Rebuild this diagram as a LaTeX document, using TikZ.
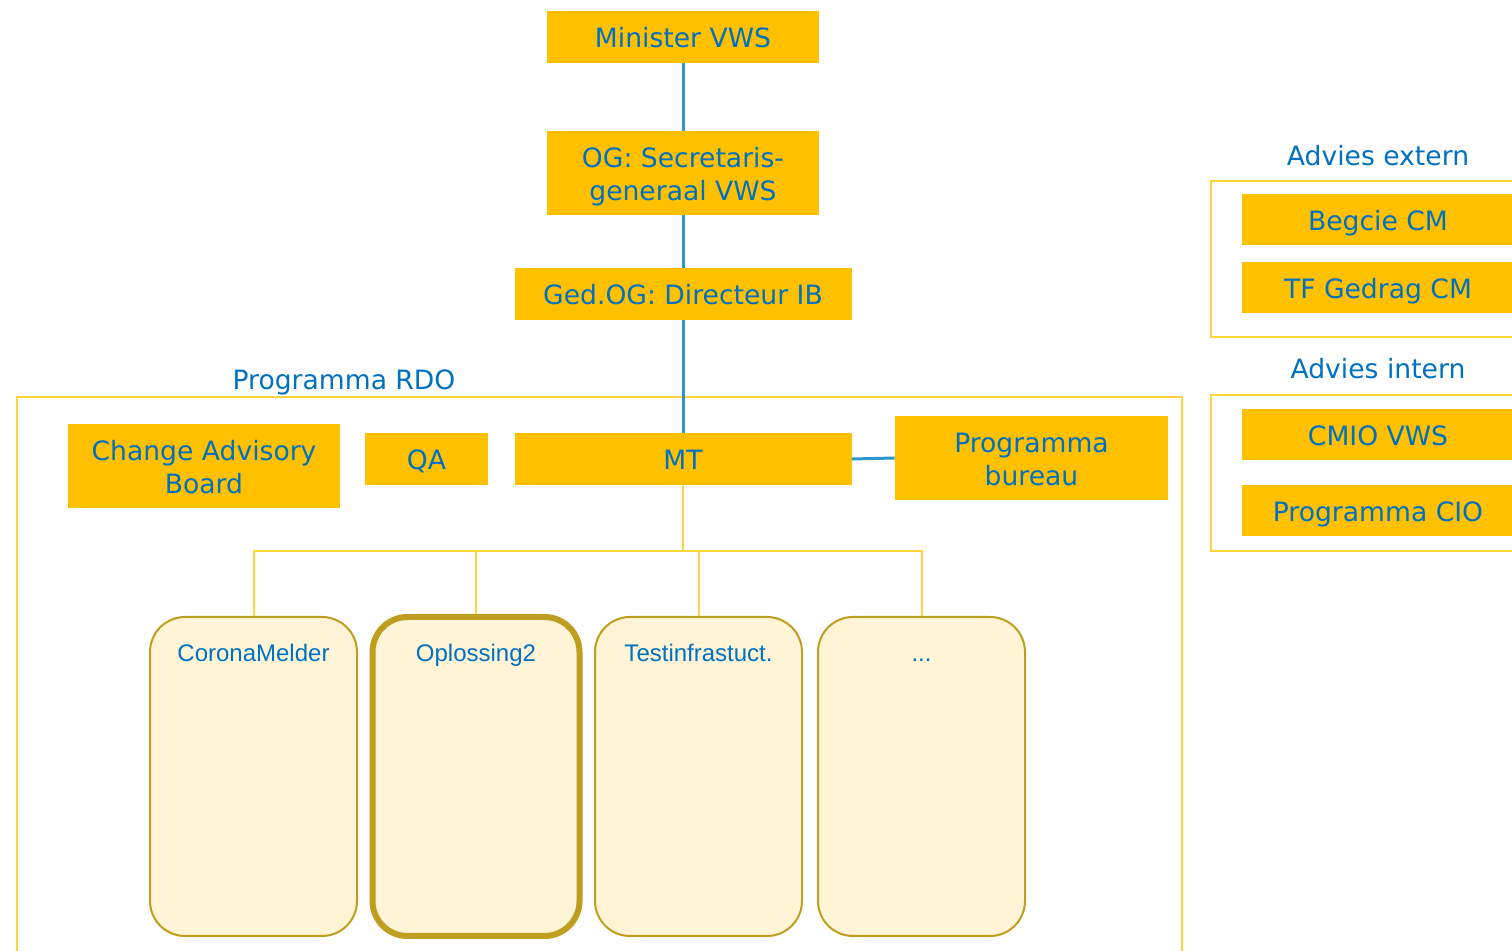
\documentclass[tikz,border=0pt]{standalone}
\usepackage{fontspec}
\setmainfont{DejaVu Sans}
\newfontfamily\arialfont{Liberation Sans}
\definecolor{boxgold}{HTML}{FFC000}
\definecolor{txtblue}{HTML}{0070C0}
\definecolor{linkblue}{HTML}{2E98CC}
\definecolor{framegold}{HTML}{FFD43B}
\definecolor{panelfill}{HTML}{FFF5D6}
\definecolor{paneledge}{HTML}{BF9D1E}
\tikzset{
  orgbox/.style={fill=boxgold, text=txtblue, align=center, inner sep=0pt,
    font=\fontsize{13.3}{16.5}\selectfont, text height=10.7pt, text depth=0pt},
  twoline/.style={text height=27.2pt},
  grouptitle/.style={text=txtblue, font=\fontsize{13.3}{16.5}\selectfont, inner sep=0pt,
    text height=9.7pt, text depth=0pt},
  groupframe/.style={draw=framegold, line width=1.25pt},
  bluelink/.style={draw=linkblue, line width=1.5pt},
  yellowlink/.style={draw=framegold, line width=1pt},
  panel/.style={draw=paneledge, fill=panelfill, line width=1pt, rounded corners=17.5pt,
    minimum width=103.5pt, minimum height=159.5pt, inner sep=0pt},
  paneltext/.style={text=txtblue, font=\arialfont\fontsize{12}{14}\selectfont, inner sep=0pt,
    text height=8.6pt, text depth=0pt}
}
\begin{document}
\begin{tikzpicture}[x=0.5pt,y=-0.5pt]
        \useasboundingbox (0,0) rectangle (1512,951);
        \clip (0,0) rectangle (1512,951);
        % groups
        \draw[groupframe] (17,397) rectangle (1182,980);
        \node[grouptitle] (rdo) at (344,380) {Programma RDO};
        \draw[groupframe] (1211,181) rectangle (1540,337);
        \node[grouptitle] (extern) at (1378,156) {Advies extern};
        \draw[groupframe] (1211,395) rectangle (1540,551);
        \node[grouptitle] (intern) at (1378,369) {Advies intern};
        % line of command
        \node[orgbox, minimum width=136pt, minimum height=26pt] (minister) at (683,37) {Minister VWS};
        \node[orgbox, twoline, minimum width=136pt, minimum height=42pt] (og) at (683,173) {OG: Secretaris-\\generaal VWS};
        \node[orgbox, minimum width=168.5pt, minimum height=26pt] (gedog) at (683,294) {Ged.OG: Directeur IB};
        \node[orgbox, minimum width=168.5pt, minimum height=26pt] (mt) at (683,459) {MT};
        \node[orgbox, twoline, minimum width=136pt, minimum height=42pt] (cab) at (204,466) {Change Advisory\\Board};
        \node[orgbox, minimum width=61.5pt, minimum height=26pt] (qa) at (426.5,459) {QA};
        \node[orgbox, twoline, minimum width=136.5pt, minimum height=42pt] (bureau) at (1031.5,458) {Programma\\bureau};
        \draw[bluelink] (minister) -- (og);
        \draw[bluelink] (og) -- (gedog);
        \draw[bluelink] (gedog) -- (mt);
        \draw[bluelink] (mt.east) -- (bureau.west);
        % advice
        \node[orgbox, minimum width=136pt, minimum height=25.5pt] (begcie) at (1378,220) {Begcie CM};
        \node[orgbox, minimum width=136pt, minimum height=25.5pt] (tfgedrag) at (1378,288) {TF Gedrag CM};
        \node[orgbox, minimum width=136pt, minimum height=25.5pt] (cmio) at (1378,435) {CMIO VWS};
        \node[orgbox, minimum width=136pt, minimum height=25.5pt] (cio) at (1378,511) {Programma CIO};
        % solutions
        \node[panel] (corona) at (253.5,776.5) {};
        \node[panel, line width=3pt] (oplossing) at (476,776.5) {};
        \node[panel] (testinfra) at (698.5,776.5) {};
        \node[panel] (more) at (921.5,776.5) {};
        \node[paneltext] (coronatxt) at (253.5,653) {CoronaMelder};
        \node[paneltext] (oplossingtxt) at (476,653) {Oplossing2};
        \node[paneltext] (testinfratxt) at (698.5,653) {Testinfrastuct.};
        \node[paneltext] (moretxt) at (921.5,653) {...};
        \coordinate (fork) at (683,551);
        \draw[yellowlink] (mt.south) -- (fork);
        \draw[yellowlink] (fork) -| (corona.north);
        \draw[yellowlink] (fork) -| (oplossing.north);
        \draw[yellowlink] (fork) -| (testinfra.north);
        \draw[yellowlink] (fork) -| (more.north);
    \end{tikzpicture}
\end{document}
